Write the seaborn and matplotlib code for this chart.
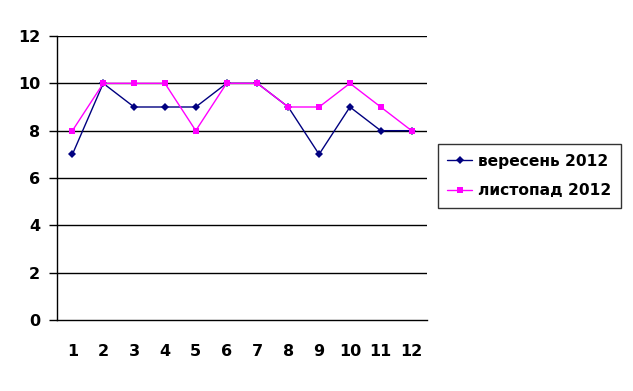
import numpy as np
import pandas as pd
import matplotlib
matplotlib.use("Agg")
import matplotlib.pyplot as plt
import seaborn as sns

# data
days = list(range(1, 13))
veresen = [7, 10, 9, 9, 9, 10, 10, 9, 7, 9, 8, 8]
lystopad = [8, 10, 10, 10, 8, 10, 10, 9, 9, 10, 9, 8]
series_names = ["вересень 2012", "листопад 2012"]
y_ticks = [0, 2, 4, 6, 8, 10, 12]

df = pd.DataFrame({
    "x": days * 2,
    "value": veresen + lystopad,
    "series": [series_names[0]] * 12 + [series_names[1]] * 12,
})

sns.set_style("white")
plt.rcParams["font.family"] = ["DejaVu Sans"]
plt.rcParams["font.weight"] = "bold"
plt.rcParams["text.color"] = "black"
plt.rcParams["xtick.color"] = "black"
plt.rcParams["ytick.color"] = "black"

fig = plt.figure(figsize=(6.33, 3.91), dpi=100)
ax = fig.add_axes([57 / 633, 1 - 320 / 391, 370 / 633, 284 / 391])

sns.lineplot(data=df, x="x", y="value", hue="series", style="series",
             palette={series_names[0]: "#000080", series_names[1]: "#FF00FF"},
             markers={series_names[0]: "D", series_names[1]: "s"},
             dashes=False, markersize=4.5, linewidth=1, markeredgewidth=0,
             ax=ax, legend=True)

ax.set_xlim(0.5, 12.5)
ax.set_ylim(0, 12)
ax.set_yticks(y_ticks)
ax.set_xticks(days)
ax.set_xticks(np.arange(0.5, 13, 1), minor=True)
ax.tick_params(axis="x", which="major", length=0, pad=17, labelsize=11.5,
               labelcolor="black")
ax.tick_params(axis="x", which="minor", length=5, width=1, color="black", direction="out")
ax.tick_params(axis="y", length=6, width=1, color="black", labelsize=11.5, pad=6,
               left=True, labelcolor="black")
for lab in ax.get_xticklabels() + ax.get_yticklabels():
    lab.set_fontweight("bold")
ax.set_xlabel("")
ax.set_ylabel("")

for v in y_ticks[1:]:
    ax.axhline(v, color="black", linewidth=1, zorder=0)

ax.spines["top"].set_visible(False)
ax.spines["right"].set_visible(False)
ax.spines["left"].set_color("black")
ax.spines["bottom"].set_color("black")
ax.spines["left"].set_linewidth(1)
ax.spines["bottom"].set_linewidth(1)

handles, labels = ax.get_legend_handles_labels()
leg = ax.legend(handles, labels, loc="center left",
                bbox_to_anchor=(438 / 633, 1 - 176 / 391),
                bbox_transform=fig.transFigure, frameon=True, fancybox=False,
                edgecolor="black", handlelength=1.6, handletextpad=0.4,
                borderpad=0.6, borderaxespad=0, labelspacing=0.95,
                prop={"size": 11.2, "weight": "bold"})
leg.get_frame().set_linewidth(1)
for t in leg.get_texts():
    t.set_color("black")

fig.savefig("out.png", dpi=100)
